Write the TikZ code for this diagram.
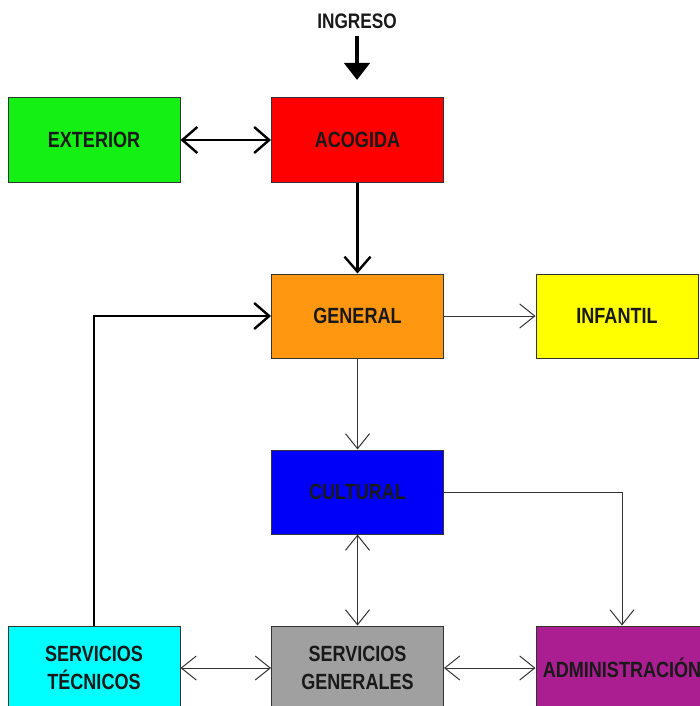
\documentclass[tikz,border=0pt]{standalone}
\usepackage{fontspec}
\setmainfont{Liberation Sans}[FakeStretch=0.82]
\usetikzlibrary{arrows.meta,positioning}
\definecolor{exteriorgreen}{RGB}{20,240,20}
\definecolor{acogidared}{RGB}{255,0,0}
\definecolor{generalorange}{RGB}{255,152,16}
\definecolor{infantilyellow}{RGB}{255,255,0}
\definecolor{culturalblue}{RGB}{0,0,250}
\definecolor{sgengray}{RGB}{160,160,160}
\definecolor{adminpurple}{RGB}{170,30,145}
\definecolor{stecncyan}{RGB}{0,255,255}
\tikzset{
  area/.style    = {draw=black!80, line width=1pt, minimum width=172pt, minimum height=84pt,
                    inner sep=0pt, align=center, text=black!90,
                    font=\fontsize{22}{27.5}\selectfont\bfseries},
  heavy/.style   = {-{Straight Barb[length=15pt,width=26pt]}, line width=2.4pt, black},
  heavyboth/.style = {{Straight Barb[length=15pt,width=26pt]}-{Straight Barb[length=15pt,width=26pt]},
                    line width=2.4pt, black},
  thin/.style    = {-{Straight Barb[length=15pt,width=24pt]}, line width=1pt, black!80},
  thinboth/.style = {{Straight Barb[length=15pt,width=24pt]}-{Straight Barb[length=15pt,width=24pt]},
                    line width=1pt, black!80},
  entry/.style   = {-{Triangle[length=17pt,width=25pt]}, line width=4.5pt, black},
}
\begin{document}
\begin{tikzpicture}[x=1pt,y=-1pt]
  \useasboundingbox (0,0) rectangle (700,706);
  \clip (0,0) rectangle (700,706);
  % boxes
  \node[area, fill=exteriorgreen]  (exterior) at (94,140)    {EXTERIOR};
  \node[area, fill=acogidared]     (acogida)  at (357.5,140) {ACOGIDA};
  \node[area, fill=generalorange]  (general)  at (357.5,316) {GENERAL};
  \node[area, fill=infantilyellow, minimum width=162pt] (infantil) at (617,316) {INFANTIL};
  \node[area, fill=culturalblue]   (cultural) at (357.5,492) {CULTURAL};
  \node[area, fill=sgengray]       (servgen)  at (357.5,668) {SERVICIOS\\GENERALES};
  \node[area, fill=adminpurple]    (admin)    at (622,668)   {ADMINISTRACIÓN};
  \node[area, fill=stecncyan]      (servtec)  at (94,668)    {SERVICIOS\\TÉCNICOS};
  % entrada
  \node[font=\fontsize{21}{24}\selectfont\bfseries, text=black!90] (ingreso) at (357,21) {INGRESO};
  \coordinate (entrada) at (357,80);
  \draw[entry] (ingreso.south) ++(0,4) -- (entrada);
  % connectors
  \draw[heavyboth] (exterior) -- (acogida);
  \draw[heavy] (acogida) -- (general);
  \draw[heavy] (servtec.north) |- (general.west);
  \draw[thin] (general) -- (infantil);
  \draw[thin] (general) -- (cultural);
  \draw[thinboth] (cultural) -- (servgen);
  \draw[thin] (cultural.east) -| (admin.north);
  \draw[thinboth] (servtec.east |- servgen.east) -- (servgen.west);
  \draw[thinboth] (servgen.east) -- (admin.west);
\end{tikzpicture}
\end{document}
